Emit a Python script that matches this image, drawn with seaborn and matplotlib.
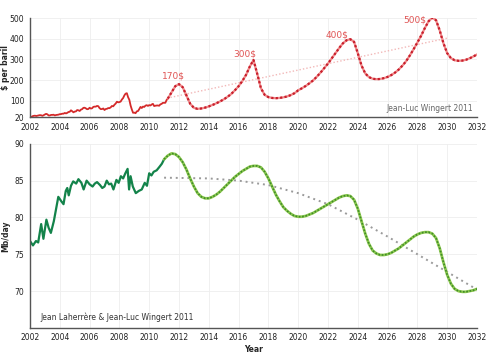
import numpy as np
import pandas as pd
import matplotlib
matplotlib.use("Agg")
import matplotlib.pyplot as plt
import seaborn as sns

# ---- oil price, $ per barrel (monthly, 2002 -> early 2011)
price_hist = [19.7, 20.7, 24.4, 26.2, 27.0, 25.5, 26.9, 28.4, 29.7, 28.9, 26.3, 29.4,
              32.9, 35.9, 33.5, 28.2, 28.1, 30.7, 30.8, 31.6, 28.3, 30.3, 31.1, 32.1,
              34.3, 34.7, 36.7, 36.7, 40.3, 38.0, 40.7, 44.9, 45.9, 53.1, 48.5, 43.3,
              46.8, 48.0, 54.3, 53.0, 49.8, 56.3, 58.7, 65.0, 65.6, 62.4, 58.3, 59.4,
              65.5, 61.6, 62.9, 69.7, 70.9, 70.9, 74.4, 73.0, 63.8, 58.9, 59.1, 62.0,
              54.5, 59.3, 60.4, 63.9, 63.5, 67.5, 74.1, 72.4, 79.9, 85.8, 94.8, 91.7,
              93.0, 95.4, 105.4, 112.6, 125.4, 133.9, 136.0, 116.7, 104.1, 76.6, 57.3, 41.1,
              41.7, 39.1, 47.9, 49.6, 59.0, 69.6, 64.2, 71.1, 69.4, 75.7, 78.0, 74.5,
              78.3, 76.4, 81.2, 84.3, 73.7, 75.3, 76.3, 76.6, 75.2, 81.9, 84.3, 89.2,
              89.4, 89.6, 102.9, 109.5]
price_hist_year = [2002 + i / 12 for i in range(len(price_hist))]

# ---- price scenario (quarterly, 2011.25 -> 2032)
price_fc = [110, 140, 170, 180, 165, 125, 85, 65, 60, 62, 66, 72,
            79, 87, 96, 106, 118, 132, 150, 170, 195, 225, 265, 297,
            230, 160, 128, 117, 113, 112, 113, 116, 120, 127, 136, 150,
            160, 171, 184, 198, 216, 236, 258, 280, 305, 330, 355, 378,
            393, 398, 385, 330, 270, 232, 214, 206, 204, 205, 209, 215,
            224, 236, 251, 270, 292, 320, 350, 382, 415, 452, 485, 502,
            490, 440, 378, 330, 306, 296, 293, 294, 298, 305, 314, 324]
price_fc_year = [2011.25 + 0.25 * i for i in range(len(price_fc))]

price_trend_year = [2011.2, 2030.0]
price_trend = [112, 403]

peak_labels = ["170$", "300$", "400$", "500$"]
peak_label_x = [2011.6, 2016.4, 2022.6, 2027.8]
peak_label_y = [218, 328, 420, 492]

# ---- world oil production, Mb/day (2002 -> 2011)
prod_hist_year = [2002.0, 2002.2, 2002.4, 2002.55, 2002.75, 2002.9, 2003.1, 2003.25,
                  2003.4, 2003.6, 2003.9, 2004.1, 2004.25, 2004.4, 2004.5, 2004.6,
                  2004.75, 2004.9, 2005.1, 2005.25, 2005.45, 2005.6, 2005.8, 2006.0,
                  2006.2, 2006.35, 2006.5, 2006.7, 2006.85, 2007.0, 2007.15, 2007.3,
                  2007.45, 2007.6, 2007.8, 2007.95, 2008.1, 2008.25, 2008.4, 2008.55,
                  2008.65, 2008.75, 2008.9, 2009.1, 2009.3, 2009.5, 2009.7, 2009.85,
                  2010.0, 2010.15, 2010.3, 2010.5, 2010.7, 2010.85, 2011.0]
prod_hist = [76.8, 76.2, 76.8, 76.6, 79.1, 77.1, 79.7, 78.6,
             77.9, 79.5, 82.8, 82.2, 81.8, 83.6, 84.0, 83.0,
             84.3, 84.9, 84.6, 85.2, 84.7, 83.8, 85.0, 84.5,
             84.2, 84.6, 84.8, 84.4, 84.0, 84.2, 85.0, 84.5,
             84.6, 83.8, 85.1, 84.7, 85.6, 85.3, 86.0, 86.6,
             83.8, 85.6, 84.2, 83.3, 83.6, 83.8, 84.7, 84.3,
             86.0, 85.7, 86.2, 86.4, 86.9, 87.3, 87.9]

# ---- production scenario (quarterly, 2011 -> 2032)
prod_fc = [87.9, 88.4, 88.7, 88.6, 88.2, 87.5, 86.5, 85.3, 84.2, 83.3, 82.8, 82.6,
           82.6, 82.8, 83.1, 83.5, 84.0, 84.5, 85.0, 85.5, 85.9, 86.3, 86.6, 86.9,
           87.0, 87.0, 86.8, 86.2, 85.3, 84.2, 83.1, 82.2, 81.4, 80.9, 80.5, 80.2,
           80.1, 80.1, 80.2, 80.4, 80.6, 80.9, 81.2, 81.5, 81.8, 82.1, 82.4, 82.7,
           82.9, 83.0, 82.9, 82.4, 81.2, 79.5, 77.8, 76.4, 75.5, 75.1, 74.9, 74.9,
           75.0, 75.2, 75.5, 75.8, 76.2, 76.6, 77.0, 77.4, 77.7, 77.9, 78.0, 78.0,
           77.8, 77.2, 75.8, 73.9, 72.2, 71.0, 70.3, 70.0, 69.9, 69.9, 70.0, 70.1,
           70.3]
prod_fc_year = [2011.0 + 0.25 * i for i in range(len(prod_fc))]

prod_trend_year = [2011, 2014, 2016, 2018, 2020, 2022, 2024, 2026, 2028, 2030, 2032]
prod_trend = [85.4, 85.3, 85.0, 84.4, 83.3, 81.8, 79.7, 77.4, 75.0, 72.6, 70.2]

year_ticks = list(range(2002, 2033, 2))


def style_axes(ax):
    ax.set_xlim(2002, 2032)
    ax.set_xticks(year_ticks)
    ax.grid(True, color="#eeeeee", linewidth=0.6)
    for s in ["top", "right"]:
        ax.spines[s].set_visible(False)
    for s in ["left", "bottom"]:
        ax.spines[s].set_color("#555555")
        ax.spines[s].set_linewidth(1.0)
    ax.tick_params(axis="both", labelsize=5.5, length=2.5, width=0.8,
                   color="#333333", labelcolor="#222222", pad=1.5)
    ax.set_xlabel("")


def main():
    sns.set_style("whitegrid")
    fig = plt.figure(figsize=(5, 3.56), dpi=100)
    ax1 = fig.add_axes([0.06, 0.671, 0.894, 0.278])
    ax2 = fig.add_axes([0.06, 0.079, 0.894, 0.517])

    # top panel: price
    sns.lineplot(x=price_trend_year, y=price_trend, ax=ax1, color="#f2b8b8",
                 linewidth=1.0, linestyle=(0, (1, 1.5)))
    sns.lineplot(x=price_hist_year, y=price_hist, ax=ax1, color="#d42a2a", linewidth=1.3)
    sns.lineplot(x=price_fc_year, y=price_fc, ax=ax1, color="#ef8a8a", linewidth=1.6)
    sns.lineplot(x=price_fc_year, y=price_fc, ax=ax1, color="#c81e2c", linewidth=1.6,
                 linestyle=(0, (1, 1)))
    for lab, lx, ly in zip(peak_labels, peak_label_x, peak_label_y):
        ax1.text(lx, ly, lab, color="#e05555", fontsize=6.5, ha="center", va="center")
    ax1.text(2031.7, 62, "Jean-Luc Wingert 2011", color="#666666", fontsize=5.5,
             ha="right", va="center")
    ax1.set_ylim(20, 500)
    ax1.set_yticks([20, 100, 200, 300, 400, 500])
    style_axes(ax1)
    ax1.set_ylabel("$ per baril", fontsize=5.5, fontweight="bold")
    ax1.yaxis.set_label_coords(-0.045, 0.5)

    # bottom panel: production
    sns.lineplot(x=prod_trend_year, y=prod_trend, ax=ax2, color="#9a9a9a",
                 linewidth=1.4, linestyle=(0, (1, 2)))
    sns.lineplot(x=prod_hist_year, y=prod_hist, ax=ax2, color="#13834a", linewidth=1.6)
    sns.lineplot(x=prod_fc_year, y=prod_fc, ax=ax2, color="#8cc94e", linewidth=2.0)
    sns.lineplot(x=prod_fc_year, y=prod_fc, ax=ax2, color="#3f8a2a", linewidth=1.2,
                 linestyle=(0, (1, 1)))
    ax2.text(2002.7, 66.5, "Jean Laherrère & Jean-Luc Wingert 2011", color="#333333",
             fontsize=5.5, ha="left", va="center")
    ax2.set_ylim(65, 90)
    ax2.set_yticks([70, 75, 80, 85, 90])
    style_axes(ax2)
    ax2.set_ylabel("Mb/day", fontsize=5.5, fontweight="bold")
    ax2.yaxis.set_label_coords(-0.045, 0.5)
    ax2.set_xlabel("Year", fontsize=5.5, fontweight="bold")
    ax2.xaxis.set_label_coords(0.5, -0.095)

    fig.savefig("out.png", dpi=100)


if __name__ == "__main__":
    main()
